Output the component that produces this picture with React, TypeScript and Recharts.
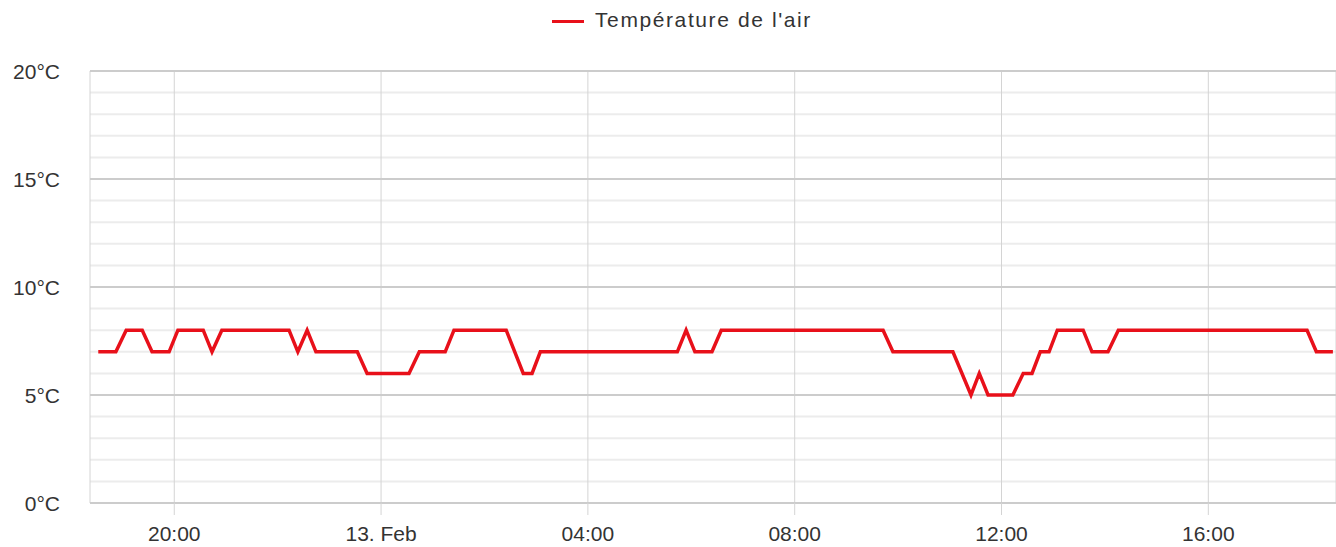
import React from "react";
import { LineChart, Line, XAxis, YAxis, CartesianGrid, ReferenceLine } from "recharts";

// hours relative to 13 Feb 00:00 (negative = evening of 12 Feb)
const hours = [
    -5.47, -5.13, -4.93, -4.62, -4.43, -4.1, -3.93, -3.44, -3.27, -3.08,
    -1.78, -1.61, -1.43, -1.26, -0.46, -0.27, 0.54, 0.74, 1.24, 1.41,
    2.42, 2.75, 2.92, 3.08, 5.73, 5.9, 6.07, 6.4, 6.58, 9.71,
    9.9, 11.06, 11.41, 11.57, 11.74, 12.22, 12.42, 12.59, 12.75, 12.92,
    13.08, 13.58, 13.75, 14.06, 14.26, 17.91, 18.09, 18.41,
];
const airTemp = [
    7, 7, 8, 8, 7, 7, 8, 8, 7, 8,
    8, 7, 8, 7, 7, 6, 6, 7, 7, 8,
    8, 6, 6, 7, 7, 8, 7, 7, 8, 8,
    7, 7, 5, 6, 5, 5, 6, 6, 7, 7,
    8, 8, 7, 7, 8, 8, 7, 7,
];
const xTicks = [-4, 0, 4, 8, 12, 16];
const yTicks = [0, 1, 2, 3, 4, 5, 6, 7, 8, 9, 10, 11, 12, 13, 14, 15, 16, 17, 18, 19, 20];
const majorTicks = [0, 5, 10, 15, 20];
const seriesName = "Température de l'air";

const data = hours.map((t, i) => ({ t, temp: airTemp[i] }));

const FONT = '"Liberation Sans", Arial, sans-serif';
const RED = "#e8101a";

const formatHour = (v: number) => {
    if (v === 0) return "13. Feb";
    const h = ((v % 24) + 24) % 24;
    return `${String(h).padStart(2, "0")}:00`;
};

const YTick = ({ y, payload }: any) => {
    if (payload.value % 5 !== 0) return <g />;
    return (
        <text x={60} y={y + 8} textAnchor="end" fontSize={21} fill="#333" fontFamily={FONT}>
            {`${payload.value}°C`}
        </text>
    );
};

const XTick = ({ x, payload }: any) => (
    <text x={x} y={541} textAnchor="middle" fontSize={21} fill="#333" fontFamily={FONT}>
        {formatHour(payload.value)}
    </text>
);

export default function App() {
    return (
        <div style={{ position: "absolute", left: 0, top: 0, width: 1336, height: 547, background: "#fff" }}>
            {/* legend */}
            <div style={{ position: "absolute", left: 552, top: 20, width: 32, height: 3, background: RED }} />
            <div
                style={{
                    position: "absolute",
                    left: 595,
                    top: 8,
                    fontSize: 21,
                    letterSpacing: 1.6,
                    color: "#333",
                    whiteSpace: "nowrap",
                    fontFamily: FONT,
                }}
            >
                {seriesName}
            </div>
            <LineChart width={1336} height={547} data={data} margin={{ top: 71, right: 0, left: 0, bottom: 0 }}>
                <CartesianGrid horizontal={true} vertical={false} stroke="#ececec" strokeWidth={2} />
                <CartesianGrid horizontal={false} vertical={true} stroke="#d4d4d4" strokeWidth={1} />
                {majorTicks.map((v) => (
                    <ReferenceLine key={v} y={v} stroke="#cccccc" strokeWidth={2} />
                ))}
                <XAxis
                    dataKey="t"
                    type="number"
                    domain={[-5.63, 18.47]}
                    ticks={xTicks}
                    allowDataOverflow
                    axisLine={false}
                    tickLine={{ stroke: "#d4d4d4" }}
                    tickSize={12}
                    height={44}
                    tick={<XTick />}
                />
                <YAxis
                    type="number"
                    domain={[0, 20]}
                    ticks={yTicks}
                    width={90}
                    axisLine={false}
                    tickLine={false}
                    interval={0}
                    tick={<YTick />}
                />
                <Line
                    type="linear"
                    dataKey="temp"
                    name={seriesName}
                    stroke={RED}
                    strokeWidth={3.5}
                    dot={false}
                    isAnimationActive={false}
                />
            </LineChart>
        </div>
    );
}
